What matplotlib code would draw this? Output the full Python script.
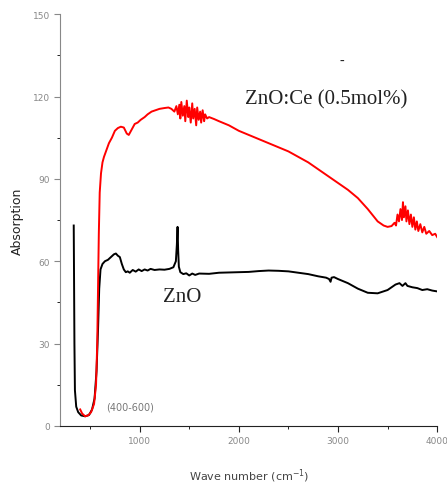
import matplotlib.pyplot as plt
from matplotlib.ticker import MultipleLocator

# ZnO spectrum (black)
zno_wn = [335, 338, 342, 347, 360, 380, 410, 450, 490, 520, 545, 565, 580, 592, 605,
          625, 650, 680, 710, 740, 760, 780, 800, 820, 840, 860, 880, 900, 930, 960,
          990, 1020, 1050, 1080, 1110, 1150, 1200, 1250, 1300, 1340, 1365, 1375, 1382,
          1388, 1395, 1410, 1440, 1470, 1500, 1530, 1560, 1600, 1700, 1800, 1900, 2000,
          2100, 2200, 2300, 2400, 2500, 2600, 2700, 2800, 2880, 2910, 2925, 2935, 2960,
          3000, 3100, 3200, 3300, 3400, 3500, 3580, 3620, 3650, 3680, 3700, 3750, 3800,
          3850, 3900, 3950, 4000]
zno_abs = [73, 55, 30, 13, 7, 5, 3.8, 3.5, 4, 6, 10, 20, 35, 50, 57,
           59, 60, 60.5, 61.5, 62.5, 62.8, 62, 61.5, 59, 57, 56, 56.3, 55.8, 56.8, 56.2,
           57, 56.4, 57, 56.6, 57.2, 56.8, 57, 56.9, 57.2, 57.8, 60, 66, 72.5,
           64, 58, 56, 55.3, 55.6, 54.8, 55.5, 55, 55.5, 55.4, 55.8, 55.9, 56,
           56.1, 56.4, 56.6, 56.5, 56.3, 55.8, 55.3, 54.5, 54, 53.5, 52.5, 54, 54.2,
           53.5, 52, 50, 48.5, 48.3, 49.5, 51.5, 52, 51, 52, 51, 50.5, 50.2,
           49.5, 49.8, 49.3, 49]

# ZnO:Ce spectrum (red)
ce_wn = [400, 420, 450, 480, 510, 540, 560, 572, 580, 588, 597, 610, 625, 640,
         660, 690, 720, 750, 780, 810, 840, 870, 890, 920, 950, 980, 1010, 1050, 1080,
         1120, 1160, 1200, 1250, 1290, 1320, 1350, 1370, 1385, 1400, 1410, 1420, 1435,
         1450, 1460, 1475, 1490, 1500, 1515, 1530, 1540, 1555, 1570, 1580, 1595, 1610,
         1620, 1635, 1650, 1660, 1680, 1700, 1750, 1800, 1900, 2000, 2100, 2200, 2300,
         2400, 2500, 2600, 2700, 2800, 2900, 3000, 3100, 3200, 3300, 3400, 3460, 3500,
         3540, 3570, 3585, 3600, 3615, 3630, 3645, 3655, 3665, 3680, 3690, 3705, 3720,
         3735, 3750, 3765, 3780, 3795, 3810, 3830, 3850, 3870, 3890, 3920, 3950, 3980, 4000]
ce_abs = [6, 4.5, 3.5, 3.8, 5, 8, 15, 30, 50, 70, 85, 92, 96, 98,
          100, 103, 105, 107.5, 108.5, 109, 108.7, 106.5, 106, 108, 110, 110.5, 111.5, 112.5, 113.5,
          114.5, 115, 115.5, 115.8, 116, 115.5, 114.5, 116.5, 113.5, 117, 112, 118, 113,
          116.5, 111, 118.5, 112.5, 116, 110.5, 117.5, 112, 115.5, 109.5, 116, 111.5, 114.5,
          110.5, 115, 111, 113.5, 112, 112.5, 111.8, 111, 109.5, 107.5, 106, 104.5, 103,
          101.5, 100, 98, 96, 93.5, 91, 88.5, 86, 83, 79, 74.5, 73, 72.5,
          72.8, 74, 73, 77, 74.5, 79, 75, 81.5, 76, 80, 74.5, 78.5, 73.5,
          77, 72.5, 76, 71.5, 74.5, 71, 73.5, 70.5, 72.5, 70, 71, 69.5, 70, 68.8]

fig = plt.figure(figsize=(4.47, 4.89), dpi=100)
ax = fig.add_axes([0.135, 0.127, 0.843, 0.842])

ax.plot(zno_wn, zno_abs, color='black', lw=1.4)
ax.plot(ce_wn, ce_abs, color='red', lw=1.4)

ax.set_xlim(200, 4000)
ax.set_ylim(0, 150)
ax.xaxis.set_major_locator(MultipleLocator(1000))
ax.xaxis.set_minor_locator(MultipleLocator(500))
ax.yaxis.set_major_locator(MultipleLocator(30))
ax.yaxis.set_minor_locator(MultipleLocator(15))

for s in ['top', 'right']:
    ax.spines[s].set_visible(False)
ax.spines['left'].set_color('#888888')
ax.spines['bottom'].set_color('#222222')
ax.tick_params(which='both', direction='out', labelsize=6.5, labelcolor='#888888')
ax.tick_params(which='major', length=4)
ax.tick_params(which='minor', length=2.5)
ax.tick_params(axis='y', colors='#888888', labelcolor='#888888')
ax.tick_params(axis='x', colors='#222222', labelcolor='#888888')

ax.set_xlabel('Wave number (cm$^{-1}$)', fontsize=8, color='#444444', labelpad=15)
ax.set_ylabel('Absorption', fontsize=9, color='#222222', labelpad=6)

ax.text(2060, 119, 'ZnO:Ce (0.5mol%)', family='Liberation Serif', fontsize=15,
        color='#222222', va='center', ha='left')
ax.text(3040, 133, '-', family='Liberation Serif', fontsize=10, color='#222222',
        va='center', ha='center')
ax.text(1240, 47, 'ZnO', family='Liberation Serif', fontsize=15, color='#222222',
        va='center', ha='left')
ax.text(660, 7, '(400-600)', fontsize=7, color='#777777', va='center', ha='left')

fig.savefig('out.png', dpi=100)
